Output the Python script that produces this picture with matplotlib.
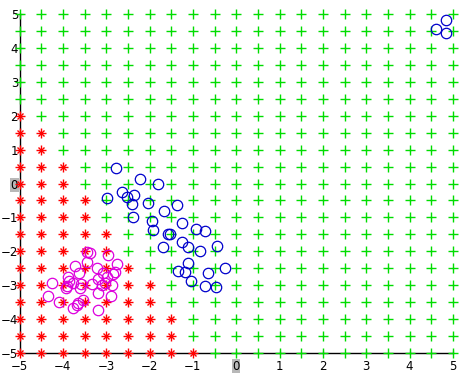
import matplotlib
matplotlib.use('Agg')
import matplotlib.pyplot as plt
import numpy as np

# grid of test points, step 0.5
grid_vals = np.arange(-5, 5.01, 0.5)

# for each row (y), the largest x that is classified red
row_y = [2.0, 1.5, 1.0, 0.5, 0.0, -0.5, -1.0, -1.5, -2.0, -2.5, -3.0, -3.5, -4.0, -4.5, -5.0]
row_red_max = [-5.0, -4.5, -4.5, -4.0, -4.0, -3.5, -3.5, -3.0, -3.0, -2.5, -2.0, -2.0, -1.5, -1.5, -1.0]

# class 1 samples (blue)
blue_x = [-2.77, -2.22, -1.80, -2.64, -2.99, -2.51, -2.35, -2.41, -2.03, -1.66,
          -1.37, -2.37, -1.94, -1.24, -0.93, -0.72, -1.91, -1.58, -1.53, -1.68,
          -1.24, -1.12, -0.84, -0.44, -1.12, -1.34, -1.18, -0.64, -0.26, -1.04,
          -0.72, -0.47, 4.84, 4.61, 4.85]
blue_y = [0.45, 0.12, -0.02, -0.24, -0.44, -0.41, -0.34, -0.61, -0.58, -0.81,
          -0.63, -1.00, -1.11, -1.15, -1.34, -1.39, -1.37, -1.49, -1.48, -1.86,
          -1.73, -1.86, -1.99, -1.84, -2.34, -2.57, -2.60, -2.63, -2.50, -2.87,
          -3.02, -3.06, 4.82, 4.55, 4.43]

# class 2 samples (magenta)
mag_x = [-3.37, -3.45, -2.95, -3.44, -3.72, -3.22, -2.76, -2.80, -2.84, -3.07,
         -2.97, -3.63, -3.87, -3.19, -3.76, -4.24, -3.91, -3.85, -3.57, -3.33,
         -2.87, -3.02, -3.10, -3.93, -3.60, -3.18, -2.90, -4.34, -4.09, -3.64,
         -3.53, -3.68, -3.76, -3.18]
mag_y = [-2.06, -2.02, -2.11, -2.31, -2.43, -2.50, -2.37, -2.62, -2.66, -2.64,
         -2.75, -2.65, -2.77, -2.83, -2.92, -2.92, -3.02, -2.88, -2.95, -2.95,
         -2.98, -2.94, -2.99, -3.09, -3.08, -3.22, -3.31, -3.32, -3.49, -3.52,
         -3.44, -3.58, -3.68, -3.73]

# classify grid
gx, gy = np.meshgrid(grid_vals, grid_vals)
gx = gx.ravel()
gy = gy.ravel()
red_mask = np.zeros(gx.shape, dtype=bool)
for yv, xm in zip(row_y, row_red_max):
    red_mask |= (np.isclose(gy, yv) & (gx <= xm + 1e-9))

fig = plt.figure(figsize=(4.7, 3.86), dpi=100)
ax = fig.add_axes([0.0415, 0.0855, 0.922, 0.878])

ax.plot(gx[~red_mask], gy[~red_mask], '+', color='#00dd00', markersize=6.5,
        markeredgewidth=1.0, linestyle='none', clip_on=False, zorder=3)
# asterisk = plus + cross
ax.plot(gx[red_mask], gy[red_mask], '+', color='#ff0000', markersize=6.5,
        markeredgewidth=1.0, linestyle='none', clip_on=False, zorder=3)
ax.plot(gx[red_mask], gy[red_mask], 'x', color='#ff0000', markersize=4.5,
        markeredgewidth=1.0, linestyle='none', clip_on=False, zorder=3)
ax.plot(blue_x, blue_y, 'o', markerfacecolor='none', markeredgecolor='#0000cc',
        markersize=7.5, markeredgewidth=0.9, linestyle='none', clip_on=False, zorder=4)
ax.plot(mag_x, mag_y, 'o', markerfacecolor='none', markeredgecolor='#dd00dd',
        markersize=7.5, markeredgewidth=0.9, linestyle='none', clip_on=False, zorder=4)

ax.set_xlim(-5, 5)
ax.set_ylim(-5, 5)
ax.set_xticks(range(-5, 6))
ax.set_yticks(range(-5, 6))
ax.spines['top'].set_visible(False)
ax.spines['right'].set_visible(False)
ax.spines['left'].set_linewidth(1.0)
ax.spines['bottom'].set_linewidth(1.0)
ax.tick_params(direction='in', length=2, width=0.8, labelsize=8.5)
ax.tick_params(axis='y', pad=1)
ax.tick_params(axis='x', pad=5)

for lab in ax.get_xticklabels() + ax.get_yticklabels():
    if lab.get_text() == '0':
        lab.set_bbox(dict(facecolor='#b8b8b8', edgecolor='none', pad=0.3))

fig.savefig('out.png', dpi=100)
